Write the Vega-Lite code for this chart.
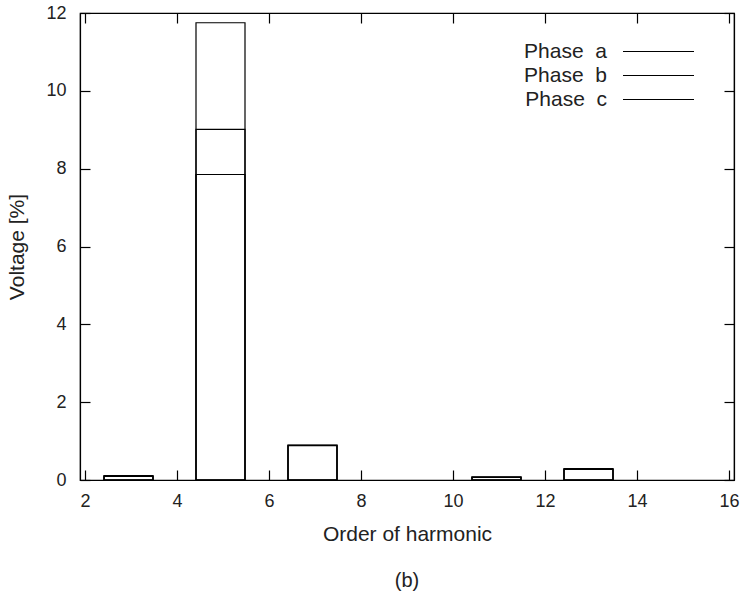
{
  "$schema": "https://vega.github.io/schema/vega-lite/v6.json",
  "width": 654,
  "height": 467,
  "autosize": {"type": "none"},
  "padding": {"left": 80, "top": 13, "right": 16, "bottom": 116},
  "background": "white",
  "config": {
    "font": "Liberation Sans",
    "view": {"stroke": "#000", "strokeWidth": 1.2},
    "axis": {
      "grid": false,
      "domainColor": "#000",
      "domainWidth": 1.2,
      "tickColor": "#000",
      "tickWidth": 1.2,
      "tickSize": -10,
      "labelColor": "#222",
      "labelFontSize": 18,
      "titleColor": "#222",
      "titleFontSize": 21,
      "titleFontWeight": "normal"
    }
  },
  "title": {"text": "(b)", "orient": "bottom", "fontSize": 20, "fontWeight": "normal", "color": "#222", "offset": 27},
  "data": {
    "values": [
      {"harmonic": 3, "phase": "a", "value": 0.11},
      {"harmonic": 3, "phase": "b", "value": 0.10},
      {"harmonic": 3, "phase": "c", "value": 0.09},
      {"harmonic": 5, "phase": "a", "value": 11.75},
      {"harmonic": 5, "phase": "b", "value": 9.01},
      {"harmonic": 5, "phase": "c", "value": 7.85},
      {"harmonic": 7, "phase": "a", "value": 0.90},
      {"harmonic": 7, "phase": "b", "value": 0.89},
      {"harmonic": 7, "phase": "c", "value": 0.88},
      {"harmonic": 11, "phase": "a", "value": 0.08},
      {"harmonic": 11, "phase": "b", "value": 0.07},
      {"harmonic": 11, "phase": "c", "value": 0.07},
      {"harmonic": 13, "phase": "a", "value": 0.29},
      {"harmonic": 13, "phase": "b", "value": 0.28},
      {"harmonic": 13, "phase": "c", "value": 0.27}
    ]
  },
  "resolve": {"axis": {"x": "independent", "y": "independent"}},
  "layer": [
    {
      "mark": {"type": "bar", "orient": "vertical", "size": 49, "xOffset": -2.5, "fill": "white", "fillOpacity": 0, "strokeWidth": 1.2},
      "encoding": {
        "x": {"field": "harmonic", "type": "quantitative", "scale": {"domain": [2, 16], "nice": false, "zero": false},
              "axis": {"orient": "bottom", "values": [2, 4, 6, 8, 10, 12, 14, 16], "labelPadding": 22, "title": "Order of harmonic", "titlePadding": 13}},
        "y": {"field": "value", "type": "quantitative", "stack": null, "scale": {"domain": [0, 12], "nice": false},
              "axis": {"orient": "left", "values": [0, 2, 4, 6, 8, 10, 12], "labelPadding": 24, "title": "Voltage [%]", "titlePadding": 18}},
        "stroke": {"field": "phase", "type": "nominal", "scale": {"range": ["#000", "#000", "#000"]},
                   "legend": {"orient": "none", "legendX": 568, "legendY": 28, "title": null, "symbolType": "M-7.1,0H7.1", "symbolSize": 100, "symbolStrokeWidth": 1.2,
                              "labelAlign": "right", "labelOffset": -62, "labelFontSize": 21, "labelColor": "#222", "rowPadding": 2,
                              "labelExpr": "'Phase\u00a0\u00a0' + datum.label"}}
      }
    },
    {
      "mark": {"type": "bar", "orient": "vertical", "size": 49, "opacity": 0},
      "encoding": {
        "x": {"field": "harmonic", "type": "quantitative", "axis": {"orient": "top", "values": [2, 4, 6, 8, 10, 12, 14, 16], "labels": false, "title": null}},
        "y": {"field": "value", "type": "quantitative", "stack": null, "axis": {"orient": "right", "values": [0, 2, 4, 6, 8, 10, 12], "labels": false, "title": null}}
      }
    }
  ]
}
